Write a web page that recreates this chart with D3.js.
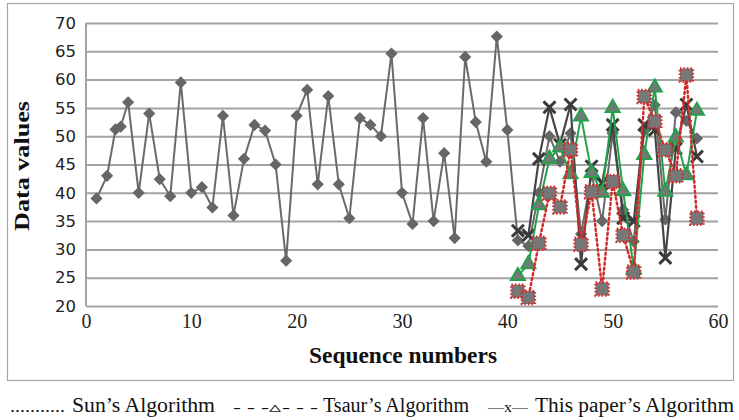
<!DOCTYPE html>
<html><head><meta charset="utf-8">
<script src="https://cdn.jsdelivr.net/npm/d3@7"></script>
<style>body{margin:0;background:#fff}svg{display:block}</style>
</head><body>
<svg id="c" width="739" height="420"></svg>
<script>
// ---- data ----
const mainX = [1,2,2.8,3.3,4,5,6,7,8,9,10,11,12,13,14,15,16,17,18,19,20,21,22,23,24,25,26,27,28,29,30,31,32,33,34,35,36,37,38,39,40,41,42,43,44,45,46,47,48,49,50,51,52,53,54,55,56,57,58];
const mainY = [39,43,51.2,51.7,56,40,54,42.4,39.4,59.5,40,41,37.4,53.6,36,46,52,51,45,28,53.6,58.2,41.5,57.1,41.5,35.5,53.2,52,50,64.6,40,34.5,53.2,35,47,32,64,52.5,45.5,67.6,51.1,31.6,30.6,40,50,45.5,50.5,32.7,43.2,35,50.5,37,31.4,51,55.5,35.3,54.2,52.7,49.6];
const algX = [41,42,43,44,45,46,47,48,49,50,51,52,53,54,55,56,57,58];
const sunY   = [22.6,21.5,31.1,39.9,37.5,47.6,30.9,40.2,23,42,32.5,26,57,52.6,47.6,43,60.8,35.5];
const tsaurY = [25.3,27.4,37.8,46,48,43.3,53.5,43.5,40,55,40.3,26.5,46.7,58.6,40.2,49.8,43.1,54.5];
const oursY  = [33.3,32.5,46,55.1,48.5,55.6,27.4,44.7,41.7,52,35.5,35,52,51.1,28.5,47.8,55.6,46.4];
const xTicks = [0,10,20,30,40,50,60];
const yTicks = [20,25,30,35,40,45,50,55,60,65,70];
const legendItems = [
  {sym:"...........", label:"Sun’s Algorithm"},
  {sym:"- - -\u25B5- - -", label:"Tsaur’s Algorithm"},
  {sym:"\u2014x\u2014", label:"This paper’s Algorithm"}
];

// ---- chart ----
const svg = d3.select("#c");
const x = d3.scaleLinear([0,60],[86,718]);
const y = d3.scaleLinear([20,70],[306,23]);

// outer border
svg.append("rect").attr("x",7.5).attr("y",3.5).attr("width",726).attr("height",377)
  .attr("fill","none").attr("stroke","#a6a6a6").attr("stroke-width",1.2);

// y axis + gridlines
const gy = svg.append("g").attr("transform","translate(86,0)")
  .call(d3.axisLeft(y).tickValues(yTicks).tickSize(-(718-86)).tickPadding(10));
gy.select(".domain").remove();
gy.selectAll(".tick line").attr("stroke","#a3a3a3").attr("stroke-width",2);
gy.selectAll(".tick text").attr("font-family","'DejaVu Sans', sans-serif").attr("font-size",16.5).attr("fill","#222");

// left axis line
svg.append("line").attr("x1",86).attr("x2",86).attr("y1",y(70)).attr("y2",y(20))
  .attr("stroke","#a3a3a3").attr("stroke-width",2);

// x axis
const gx = svg.append("g").attr("transform","translate(0,306)")
  .call(d3.axisBottom(x).tickValues(xTicks).tickSize(0).tickPadding(8));
gx.select(".domain").remove();
gx.selectAll(".tick text").attr("font-family","'Liberation Serif', serif").attr("font-size",20).attr("fill","#222");

// axis titles
svg.append("text").attr("x",403).attr("y",363).attr("text-anchor","middle")
  .attr("font-family","'Liberation Serif', serif").attr("font-weight","bold").attr("font-size",22.5).attr("fill","#111")
  .attr("textLength",188).attr("lengthAdjust","spacingAndGlyphs")
  .text("Sequence numbers");
svg.append("text").attr("transform","translate(29,166) rotate(-90)").attr("text-anchor","middle")
  .attr("font-family","'Liberation Serif', serif").attr("font-weight","bold").attr("font-size",21).attr("fill","#111")
  .attr("textLength",130).attr("lengthAdjust","spacingAndGlyphs")
  .text("Data values");

const line = d3.line().x(d=>x(d[0])).y(d=>y(d[1]));
const mainData = mainX.map((v,i)=>[v,mainY[i]]);
const sunData = algX.map((v,i)=>[v,sunY[i]]);
const tsaurData = algX.map((v,i)=>[v,tsaurY[i]]);
const oursData = algX.map((v,i)=>[v,oursY[i]]);

// main series (gray diamonds)
svg.append("path").datum(mainData).attr("d",line).attr("fill","none").attr("stroke","#6a6a6a").attr("stroke-width",2);
svg.append("g").selectAll("path").data(mainData).join("path")
  .attr("transform",d=>`translate(${x(d[0])},${y(d[1])})`)
  .attr("d",d3.symbol(d3.symbolDiamond2,95)).attr("fill","#666");

// This paper's (dark X)
svg.append("path").datum(oursData).attr("d",line).attr("fill","none").attr("stroke","#454545").attr("stroke-width",2.2);
svg.append("g").selectAll("path").data(oursData).join("path")
  .attr("transform",d=>`translate(${x(d[0])},${y(d[1])})`)
  .attr("d",d3.symbol(d3.symbolX,95)).attr("fill","none").attr("stroke","#3a3a3a").attr("stroke-width",3);

// Tsaur's (green triangles)
svg.append("path").datum(tsaurData).attr("d",line).attr("fill","none").attr("stroke","#24a14c").attr("stroke-width",2);
svg.append("g").selectAll("path").data(tsaurData).join("path")
  .attr("transform",d=>`translate(${x(d[0])},${y(d[1])})`)
  .attr("d",d3.symbol(d3.symbolTriangle,85)).attr("fill","#777").attr("stroke","#24a14c").attr("stroke-width",2);

// Sun's (red dotted, gray squares)
svg.append("path").datum(sunData).attr("d",line).attr("fill","none").attr("stroke","#d42a2a")
  .attr("stroke-width",2.5).attr("stroke-dasharray","2,3").attr("stroke-linecap","round");
svg.append("g").selectAll("rect").data(sunData).join("rect")
  .attr("x",d=>x(d[0])-6.5).attr("y",d=>y(d[1])-6.5).attr("width",13).attr("height",13)
  .attr("fill","#777").attr("stroke","#d42a2a").attr("stroke-width",2.5).attr("stroke-dasharray","1.5,2");

// legend
const legPos = [{sx:10,sw:55,lx:72,lw:143},{sx:233,sw:85,lx:323,lw:146},{sx:488,sw:40,lx:535,lw:199}];
const lg = svg.append("g").attr("font-family","'Liberation Serif', serif").attr("font-size",20.5).attr("fill","#111");
legendItems.forEach((it,i)=>{
  lg.append("text").attr("x",legPos[i].sx).attr("y",412).attr("font-size",i===0?17:15)
    .attr("textLength",legPos[i].sw).attr("lengthAdjust","spacingAndGlyphs").text(it.sym);
  lg.append("text").attr("x",legPos[i].lx).attr("y",412)
    .attr("textLength",legPos[i].lw).attr("lengthAdjust","spacingAndGlyphs").text(it.label);
});
</script>
</body></html>
